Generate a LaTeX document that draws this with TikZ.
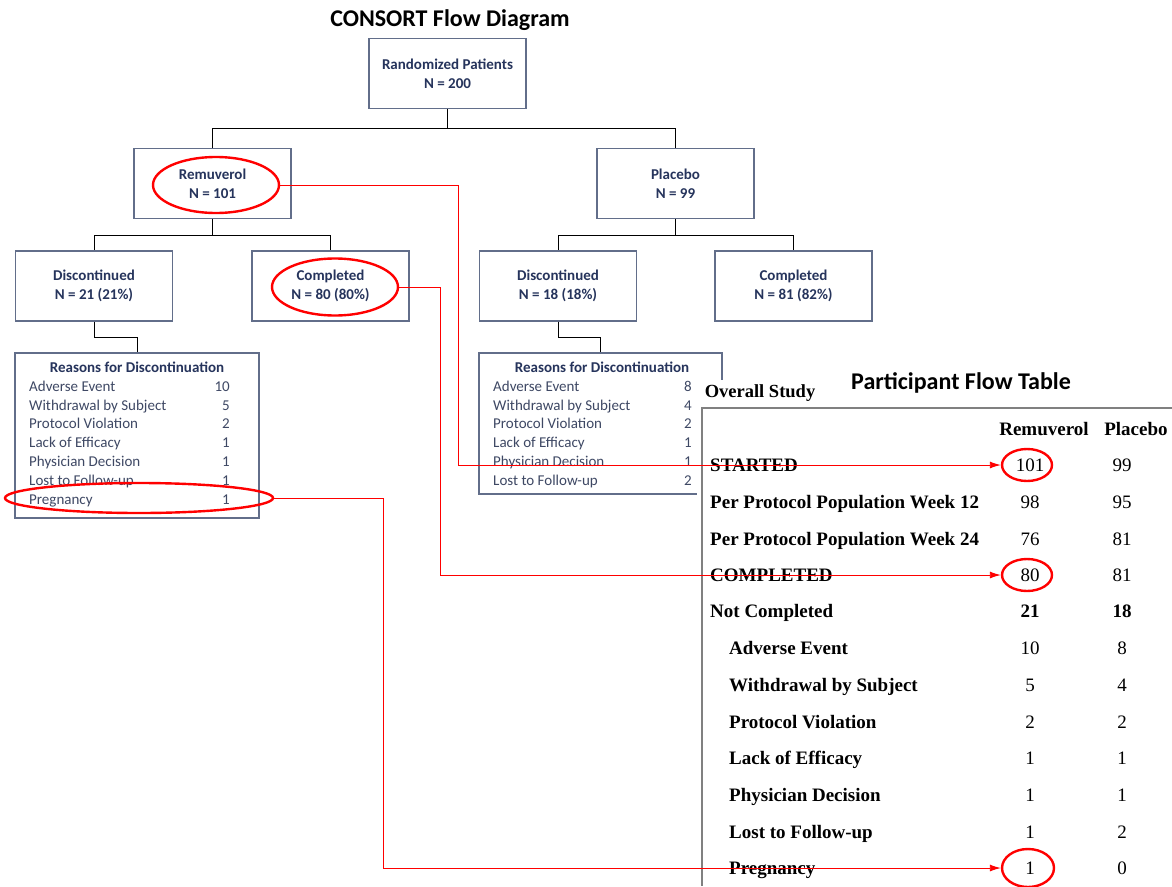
\documentclass[tikz,border=0pt]{standalone}
\usepackage{fontspec}
\setmainfont{Liberation Serif}
\newfontfamily\carlito{Carlito}
\usetikzlibrary{shapes.geometric,arrows.meta}
\definecolor{boxgray}{RGB}{98,110,138}
\definecolor{conngray}{RGB}{72,72,72}
\definecolor{navy}{RGB}{38,52,92}
\definecolor{rowblue}{RGB}{62,72,100}
\definecolor{tabgray}{RGB}{128,128,128}
\begin{document}
\begin{tikzpicture}[x=1pt,y=-1pt,
    box/.style={draw=boxgray,line width=1.3pt,minimum width=157pt,minimum height=70pt,inner sep=0pt,align=center,text=navy,font=\carlito\bfseries\fontsize{15}{19}\selectfont},
    rbox/.style={draw=boxgray,line width=1.3pt,inner sep=0pt},
    conn/.style={draw=conngray,line width=1.5pt},
    rhead/.style={text=navy,font=\carlito\bfseries\fontsize{15}{18}\selectfont},
    rlab/.style={anchor=west,inner sep=0pt,yshift=-2.5pt,text=rowblue,text height=.7em,text depth=.2em,font=\carlito\fontsize{15}{18}\selectfont},
    rnum/.style={rlab,anchor=east},
    title/.style={font=\carlito\bfseries\fontsize{24}{28}\selectfont},
    tlab/.style={anchor=west,inner sep=0pt,yshift=-3.5pt,text height=.7em,text depth=.2em,font=\bfseries\fontsize{19}{22}\selectfont},
    tnum/.style={inner sep=0pt,yshift=-3.5pt,text height=.7em,text depth=.2em,font=\fontsize{19}{22}\selectfont},
    ring/.style={ellipse,draw=red,line width=2.4pt,inner sep=0pt},
    link/.style={draw=red,line width=0.9pt,-{Latex[length=11pt,width=7pt]}},
]
\useasboundingbox (0,0) rectangle (1172,886);
\fill[white] (0,0) rectangle (1172,886);

% flow diagram
\node[title] (ctitle) at (450,20) {CONSORT Flow Diagram};
\node[box] (rand) at (447.5,73.5) {Randomized Patients\\N = 200};
\node[box] (rem) at (212.5,183.5) {Remuverol\\N = 101};
\node[box] (plac) at (675.5,183.5) {Placebo\\N = 99};
\node[box] (disc1) at (94,286) {Discontinued\\N = 21 (21\%)};
\node[box] (comp1) at (330.5,286) {Completed\\N = 80 (80\%)};
\node[box] (disc2) at (558,286) {Discontinued\\N = 18 (18\%)};
\node[box] (comp2) at (793.5,286) {Completed\\N = 81 (82\%)};
\node[rbox,minimum width=244pt,minimum height=165pt] (rsn1) at (137,435.5) {};
\node[rbox,minimum width=243pt,minimum height=141pt] (rsn2) at (600.5,423.5) {};

{[conn]
\draw (rand.south) -- ++(0,19.5) -| (rem.north);
\draw (rand.south) -- ++(0,19.5) -| (plac.north);
\draw (rem.south) -- ++(0,16.5) -| (disc1.north);
\draw (rem.south) -- ++(0,16.5) -| (comp1.north);
\draw (plac.south) -- ++(0,16.5) -| (disc2.north);
\draw (plac.south) -- ++(0,16.5) -| (comp2.north);
\draw (disc1.south) -- ++(0,16) -| (rsn1.north);
\draw (disc2.south) -- ++(0,16) -| (rsn2.north);
}

% reasons, remuverol
\node[rhead] (rh1) at (137,367) {Reasons for Discontinuation};
\node[rlab] (a1) at (29,386) {Adverse Event};       \node[rnum] (a1n) at (230,386) {10};
\node[rlab] (b1) at (29,405) {Withdrawal by Subject};\node[rnum] (b1n) at (230,405) {5};
\node[rlab] (c1) at (29,423) {Protocol Violation};  \node[rnum] (c1n) at (230,423) {2};
\node[rlab] (d1) at (29,442) {Lack of Efficacy};    \node[rnum] (d1n) at (230,442) {1};
\node[rlab] (e1) at (29,461) {Physician Decision};  \node[rnum] (e1n) at (230,461) {1};
\node[rlab] (f1) at (29,480) {Lost to Follow-up};   \node[rnum] (f1n) at (230,480) {1};
\node[rlab] (g1) at (29,499) {Pregnancy};           \node[rnum] (g1n) at (230,499) {1};

% reasons, placebo
\node[rhead] (rh2) at (602,367) {Reasons for Discontinuation};
\node[rlab] (a2) at (493,386) {Adverse Event};       \node[rnum] (a2n) at (692,386) {8};
\node[rlab] (b2) at (493,405) {Withdrawal by Subject};\node[rnum] (b2n) at (692,405) {4};
\node[rlab] (c2) at (493,423) {Protocol Violation};  \node[rnum] (c2n) at (692,423) {2};
\node[rlab] (d2) at (493,442) {Lack of Efficacy};    \node[rnum] (d2n) at (692,442) {1};
\node[rlab] (e2) at (493,461) {Physician Decision};  \node[rnum] (e2n) at (692,461) {1};
\node[rlab] (f2) at (493,480) {Lost to Follow-up};   \node[rnum] (f2n) at (692,480) {2};

% flow table
\fill[white] (697,380) rectangle (1172,886); % cover
\draw[tabgray,line width=1.4pt] (1172,408) -| (702,886); % frame
\node[title] (ttitle) at (961,383) {Participant Flow Table};
\node[font=\bfseries\fontsize{18.5}{22}\selectfont,inner sep=0pt] (ostudy) at (760,393) {Overall Study};
\node[tnum,font=\bfseries\fontsize{19}{22}\selectfont] (hrem) at (1044,429) {Remuverol};
\node[tnum,font=\bfseries\fontsize{19}{22}\selectfont] (hpla) at (1136,429) {Placebo};

\node[tlab] (started) at (710,465) {STARTED};        \node[tnum] (s1) at (1030,465) {101}; \node[tnum] (s2) at (1122,465) {99};
\node[tlab] (pp12) at (710,502) {Per Protocol Population Week 12}; \node[tnum] (p1) at (1030,502) {98}; \node[tnum] (p2) at (1122,502) {95};
\node[tlab] (pp24) at (710,539) {Per Protocol Population Week 24}; \node[tnum] (q1) at (1030,539) {76}; \node[tnum] (q2) at (1122,539) {81};
\node[tlab] (compl) at (710,575) {COMPLETED};        \node[tnum] (m1) at (1030,575) {80}; \node[tnum] (m2) at (1122,575) {81};
\node[tlab] (notc) at (710,611) {Not Completed};     \node[tnum,font=\bfseries\fontsize{19}{22}\selectfont] (n1) at (1030,611) {21}; \node[tnum,font=\bfseries\fontsize{19}{22}\selectfont] (n2) at (1122,611) {18};
\node[tlab] (tae) at (729,648) {Adverse Event};      \node[tnum] (ta1) at (1030,648) {10}; \node[tnum] (ta2) at (1122,648) {8};
\node[tlab] (twd) at (729,685) {Withdrawal by Subject}; \node[tnum] (tb1) at (1030,685) {5}; \node[tnum] (tb2) at (1122,685) {4};
\node[tlab] (tpv) at (729,722) {Protocol Violation}; \node[tnum] (tc1) at (1030,722) {2}; \node[tnum] (tc2) at (1122,722) {2};
\node[tlab] (tle) at (729,758) {Lack of Efficacy};   \node[tnum] (td1) at (1030,758) {1}; \node[tnum] (td2) at (1122,758) {1};
\node[tlab] (tpd) at (729,795) {Physician Decision}; \node[tnum] (te1) at (1030,795) {1}; \node[tnum] (te2) at (1122,795) {1};
\node[tlab] (tlf) at (729,832) {Lost to Follow-up};  \node[tnum] (tf1) at (1030,832) {1}; \node[tnum] (tf2) at (1122,832) {2};
\node[tlab] (tpr) at (729,868) {Pregnancy};          \node[tnum] (tg1) at (1030,868) {1}; \node[tnum] (tg2) at (1122,868) {0};

% red marks
\node[ring,minimum width=126pt,minimum height=56pt] (remEll) at (216,185) {};
\node[ring,minimum width=126pt,minimum height=57pt] (compEll) at (335,287) {};
\node[ring,minimum width=268pt,minimum height=30pt] (pregEll) at (139,498) {};
\node[ring,minimum width=50pt,minimum height=32pt] (r101) at (1027,465) {};
\node[ring,minimum width=50pt,minimum height=32pt] (r80) at (1027,575) {};
\node[ring,minimum width=52pt,minimum height=38pt] (r1) at (1028,868) {};

\coordinate (k1) at (458,185);
\coordinate (k2) at (440,287);
\coordinate (k3) at (383,498);
\draw[link] (remEll.east) -- (k1) |- (r101.west); % started
\draw[link] (compEll.east) -- (k2) |- (r80.west); % completed
\draw[link] (pregEll.east) -- (k3) |- (r1.west); % pregnancy
\end{tikzpicture}
\end{document}
